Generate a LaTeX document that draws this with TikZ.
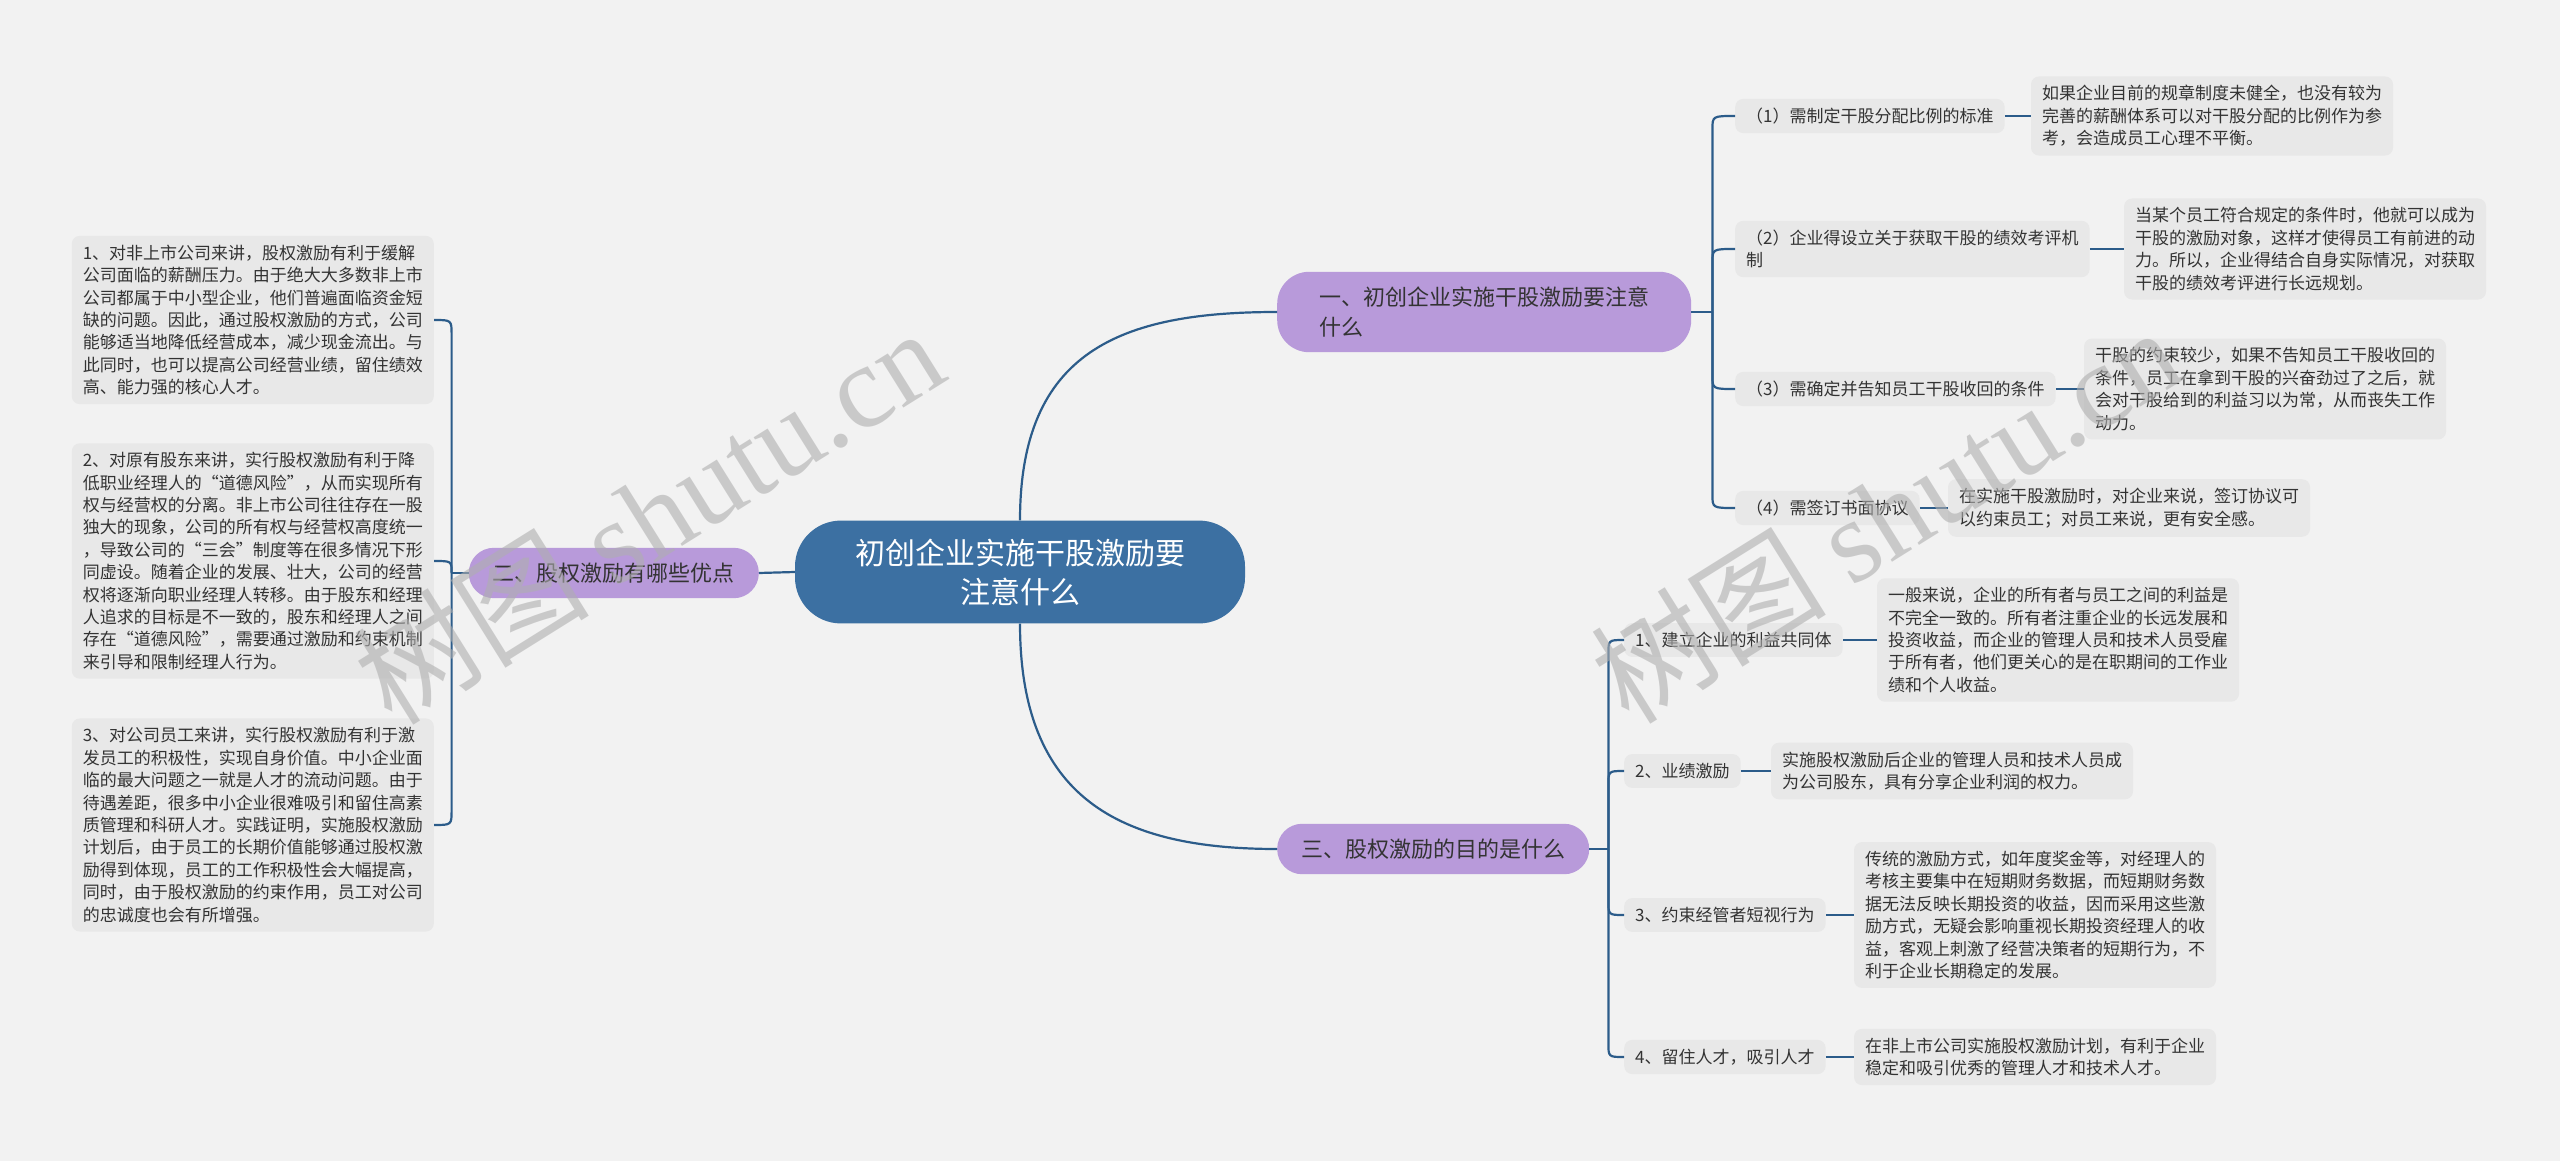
\documentclass[tikz,border=0pt]{standalone}
\usepackage{fontspec}
\setmainfont{Noto Sans CJK SC}
\newfontfamily\wmserif{Liberation Serif}
\usetikzlibrary{positioning,calc}
\definecolor{bg}{RGB}{242,242,242}
\definecolor{cblue}{RGB}{60,112,162}
\definecolor{purp}{RGB}{184,154,218}
\definecolor{boxg}{RGB}{232,232,232}
\definecolor{txt}{RGB}{51,51,51}
\definecolor{lineb}{RGB}{44,92,138}
\definecolor{wmc}{RGB}{175,175,175}
\begin{document}
\begin{tikzpicture}[x=1pt,y=-1pt,
  conn/.style={draw=lineb, line width=2.2pt},
  rootbox/.style={fill=cblue, text=white, rounded corners=46pt, inner xsep=60pt, inner ysep=18pt, align=center, font=\fontsize{30}{39}\selectfont},
  mainbox/.style={fill=purp, text=txt, rounded corners=25pt, inner xsep=24pt, inner ysep=15pt, align=left, font=\fontsize{22}{30}\selectfont},
  subbox/.style={fill=boxg, text=txt, rounded corners=8pt, inner xsep=11pt, inner ysep=9pt, align=left, font=\fontsize{17}{22.4}\selectfont},
  wmark/.style={rotate=32, text=wmc, opacity=0.6, font=\fontsize{118}{118}\selectfont}
]
\useasboundingbox (0,0) rectangle (2560,1161);
\fill[bg] (0,0) rectangle (2560,1161);

% main nodes
\node[rootbox] (root) at (1020,572) {初创企业实施干股激励要\\注意什么};
\node[mainbox, anchor=west, inner xsep=42pt, rounded corners=32pt] (m1) at (1277,312) {一、初创企业实施干股激励要注意\\什么};
\node[mainbox, anchor=east] (m2) at (759,573) {二、股权激励有哪些优点};
\node[mainbox, anchor=west] (m3) at (1277,849) {三、股权激励的目的是什么};

% left boxes
\node[subbox, anchor=east] (b1) at (434,320) {1、对非上市公司来讲，股权激励有利于缓解\\公司面临的薪酬压力。由于绝大大多数非上市\\公司都属于中小型企业，他们普遍面临资金短\\缺的问题。因此，通过股权激励的方式，公司\\能够适当地降低经营成本，减少现金流出。与\\此同时，也可以提高公司经营业绩，留住绩效\\高、能力强的核心人才。};
\node[subbox, anchor=east] (b2) at (434,561) {2、对原有股东来讲，实行股权激励有利于降\\低职业经理人的“道德风险”，从而实现所有\\权与经营权的分离。非上市公司往往存在一股\\独大的现象，公司的所有权与经营权高度统一\\，导致公司的“三会”制度等在很多情况下形\\同虚设。随着企业的发展、壮大，公司的经营\\权将逐渐向职业经理人转移。由于股东和经理\\人追求的目标是不一致的，股东和经理人之间\\存在“道德风险”，需要通过激励和约束机制\\来引导和限制经理人行为。};
\node[subbox, anchor=east] (b3) at (434,825) {3、对公司员工来讲，实行股权激励有利于激\\发员工的积极性，实现自身价值。中小企业面\\临的最大问题之一就是人才的流动问题。由于\\待遇差距，很多中小企业很难吸引和留住高素\\质管理和科研人才。实践证明，实施股权激励\\计划后，由于员工的长期价值能够通过股权激\\励得到体现，员工的工作积极性会大幅提高，\\同时，由于股权激励的约束作用，员工对公司\\的忠诚度也会有所增强。};

% right top cluster
\node[subbox, anchor=west] (a1) at (1735,116) {（1）需制定干股分配比例的标准};
\node[subbox, right=26pt of a1] (d1) {如果企业目前的规章制度未健全，也没有较为\\完善的薪酬体系可以对干股分配的比例作为参\\考，会造成员工心理不平衡。};
\node[subbox, anchor=west] (a2) at (1735,249) {（2）企业得设立关于获取干股的绩效考评机\\制};
\node[subbox, right=34pt of a2] (d2) {当某个员工符合规定的条件时，他就可以成为\\干股的激励对象，这样才使得员工有前进的动\\力。所以，企业得结合自身实际情况，对获取\\干股的绩效考评进行长远规划。};
\node[subbox, anchor=west] (a3) at (1735,389) {（3）需确定并告知员工干股收回的条件};
\node[subbox, right=28pt of a3] (d3) {干股的约束较少，如果不告知员工干股收回的\\条件，员工在拿到干股的兴奋劲过了之后，就\\会对干股给到的利益习以为常，从而丧失工作\\动力。};
\node[subbox, anchor=west] (a4) at (1735,508) {（4）需签订书面协议};
\node[subbox, right=28pt of a4] (d4) {在实施干股激励时，对企业来说，签订协议可\\以约束员工；对员工来说，更有安全感。};

% right bottom cluster
\node[subbox, anchor=west] (c1) at (1624,640) {1、建立企业的利益共同体};
\node[subbox, right=34pt of c1] (e1) {一般来说，企业的所有者与员工之间的利益是\\不完全一致的。所有者注重企业的长远发展和\\投资收益，而企业的管理人员和技术人员受雇\\于所有者，他们更关心的是在职期间的工作业\\绩和个人收益。};
\node[subbox, anchor=west] (c2) at (1624,771) {2、业绩激励};
\node[subbox, right=30pt of c2] (e2) {实施股权激励后企业的管理人员和技术人员成\\为公司股东，具有分享企业利润的权力。};
\node[subbox, anchor=west] (c3) at (1624,915) {3、约束经管者短视行为};
\node[subbox, right=28pt of c3] (e3) {传统的激励方式，如年度奖金等，对经理人的\\考核主要集中在短期财务数据，而短期财务数\\据无法反映长期投资的收益，因而采用这些激\\励方式，无疑会影响重视长期投资经理人的收\\益，客观上刺激了经营决策者的短期行为，不\\利于企业长期稳定的发展。};
\node[subbox, anchor=west] (c4) at (1624,1057) {4、留住人才，吸引人才};
\node[subbox, right=28pt of c4] (e4) {在非上市公司实施股权激励计划，有利于企业\\稳定和吸引优秀的管理人才和技术人才。};

% root connectors
\draw[conn] (root.west) -- (m2.east);
\draw[conn] (root.north) .. controls ($(root.north)+(0,-169)$) and ($(m1.west)+(-157,0)$) .. (m1.west);
\draw[conn] (root.south) .. controls ($(root.south)+(0,175)$) and ($(m3.west)+(-157,0)$) .. (m3.west);

% left cluster
\coordinate (j2) at ($(m2.west)+(-17,0)$);
\draw[conn] (m2.west) -- (j2);
\draw[conn] (j2) -- ($(j2 |- b1.east)+(0,15)$) .. controls (j2 |- b1.east) .. (b1.east);
\draw[conn] (j2) .. controls (j2 |- b2.east) .. (b2.east);
\draw[conn] (j2) -- ($(j2 |- b3.east)+(0,-15)$) .. controls (j2 |- b3.east) .. (b3.east);

% top right cluster
\coordinate (j1) at ($(m1.east)+(21,0)$);
\draw[conn] (m1.east) -- (j1);
\draw[conn] (j1) -- ($(j1 |- a1.west)+(0,14)$) .. controls (j1 |- a1.west) .. (a1.west);
\draw[conn] (j1) -- ($(j1 |- a2.west)+(0,14)$) .. controls (j1 |- a2.west) .. (a2.west);
\draw[conn] (j1) -- ($(j1 |- a3.west)+(0,-14)$) .. controls (j1 |- a3.west) .. (a3.west);
\draw[conn] (j1) -- ($(j1 |- a4.west)+(0,-14)$) .. controls (j1 |- a4.west) .. (a4.west);
\draw[conn] (a1.east) -- (d1.west);
\draw[conn] (a2.east) -- (a2.east -| d2.west);
\draw[conn] (a3.east) -- (d3.west);
\draw[conn] (a4.east) -- (d4.west);

% bottom right cluster
\coordinate (j3) at ($(m3.east)+(19,0)$);
\draw[conn] (m3.east) -- (j3);
\draw[conn] (j3) -- ($(j3 |- c1.west)+(0,14)$) .. controls (j3 |- c1.west) .. (c1.west);
\draw[conn] (j3) -- ($(j3 |- c2.west)+(0,14)$) .. controls (j3 |- c2.west) .. (c2.west);
\draw[conn] (j3) -- ($(j3 |- c3.west)+(0,-14)$) .. controls (j3 |- c3.west) .. (c3.west);
\draw[conn] (j3) -- ($(j3 |- c4.west)+(0,-14)$) .. controls (j3 |- c4.west) .. (c4.west);
\draw[conn] (c1.east) -- (e1.west);
\draw[conn] (c2.east) -- (e2.west);
\draw[conn] (c3.east) -- (e3.west);
\draw[conn] (c4.east) -- (e4.west);

% watermarks
\node[wmark] (wm1) at (648,515) {树图 {\wmserif shutu.cn}};
\node[wmark] (wm2) at (1885,514) {树图 {\wmserif shutu.cn}};
\end{tikzpicture}
\end{document}
